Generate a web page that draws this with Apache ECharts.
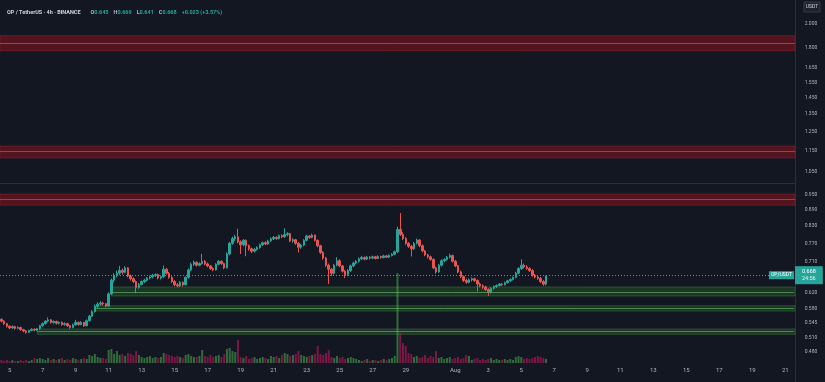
<!DOCTYPE html>
<html><head><meta charset="utf-8">
<script src="https://cdn.jsdelivr.net/npm/echarts@6/dist/echarts.min.js"></script>
<style>html,body{margin:0;padding:0;background:#131722;overflow:hidden}#c{width:825px;height:382px}</style>
</head><body><div id="c"></div>
<script>
// ---- data ----
const startTime = Date.UTC(2025, 6, 4, 12); // first 4h candle
const categoryCount = 289;
const firstOpen = 0.553;
const closes = [
0.549,0.543,0.537,0.533,0.536,0.532,0.534,0.529,0.526,0.523,
0.527,0.530,0.528,0.531,0.538,0.543,0.549,0.552,0.546,0.548,
0.544,0.546,0.541,0.543,0.538,0.534,0.540,0.546,0.541,0.546,
0.538,0.550,0.561,0.572,0.585,0.591,0.594,0.592,0.586,0.618,
0.656,0.670,0.676,0.684,0.679,0.692,0.668,0.660,0.652,0.636,
0.644,0.652,0.656,0.662,0.665,0.670,0.672,0.662,0.666,0.688,
0.676,0.664,0.652,0.643,0.640,0.650,0.643,0.664,0.686,0.703,
0.709,0.700,0.705,0.712,0.704,0.698,0.690,0.686,0.703,0.712,
0.705,0.692,0.735,0.770,0.786,0.792,0.775,0.765,0.780,0.762,
0.752,0.744,0.750,0.756,0.765,0.772,0.768,0.778,0.785,0.790,
0.786,0.796,0.792,0.800,0.803,0.778,0.782,0.770,0.757,0.764,
0.780,0.795,0.790,0.798,0.780,0.762,0.740,0.722,0.700,0.688,
0.676,0.700,0.714,0.698,0.682,0.672,0.684,0.698,0.707,0.712,
0.720,0.724,0.719,0.725,0.722,0.726,0.721,0.727,0.724,0.729,
0.725,0.730,0.734,0.742,0.818,0.800,0.786,0.770,0.760,0.752,
0.770,0.781,0.762,0.745,0.732,0.726,0.718,0.692,0.680,0.700,
0.714,0.718,0.725,0.730,0.712,0.698,0.680,0.666,0.655,0.650,
0.657,0.660,0.655,0.645,0.640,0.637,0.630,0.622,0.633,0.638,
0.641,0.645,0.643,0.649,0.654,0.658,0.664,0.676,0.690,0.700,
0.695,0.690,0.684,0.670,0.665,0.661,0.652,0.645,0.668];
const highs = [
0.556,0.551,0.545,0.539,0.539,0.538,0.537,0.536,0.531,0.528,
0.529,0.532,0.532,0.533,0.540,0.546,0.551,0.558,0.554,0.551,
0.550,0.548,0.548,0.546,0.545,0.540,0.543,0.552,0.548,0.549,
0.547,0.553,0.564,0.576,0.590,0.596,0.599,0.597,0.594,0.622,
0.661,0.676,0.684,0.698,0.690,0.697,0.694,0.672,0.664,0.655,
0.648,0.655,0.660,0.665,0.669,0.674,0.676,0.675,0.670,0.699,
0.692,0.680,0.667,0.656,0.648,0.653,0.652,0.667,0.690,0.708,
0.714,0.712,0.709,0.735,0.716,0.708,0.701,0.694,0.706,0.716,
0.715,0.708,0.740,0.775,0.792,0.799,0.820,0.780,0.784,0.783,
0.766,0.756,0.754,0.760,0.769,0.776,0.777,0.782,0.790,0.795,
0.794,0.800,0.800,0.822,0.808,0.806,0.787,0.785,0.774,0.768,
0.784,0.799,0.798,0.803,0.800,0.783,0.765,0.744,0.726,0.705,
0.692,0.704,0.725,0.718,0.701,0.686,0.688,0.702,0.711,0.716,
0.724,0.729,0.727,0.729,0.728,0.730,0.729,0.731,0.730,0.733,
0.732,0.734,0.738,0.746,0.828,0.878,0.808,0.791,0.774,0.764,
0.774,0.786,0.784,0.766,0.748,0.736,0.730,0.721,0.696,0.704,
0.718,0.722,0.729,0.736,0.733,0.716,0.701,0.684,0.669,0.660,
0.661,0.664,0.663,0.658,0.649,0.644,0.640,0.633,0.636,0.641,
0.644,0.648,0.648,0.652,0.657,0.661,0.667,0.680,0.694,0.718,
0.705,0.700,0.694,0.688,0.674,0.670,0.665,0.656,0.669];
const lows = [
0.546,0.540,0.534,0.530,0.531,0.529,0.530,0.527,0.523,0.520,
0.521,0.525,0.525,0.526,0.529,0.536,0.541,0.546,0.543,0.543,
0.541,0.541,0.538,0.538,0.535,0.531,0.532,0.538,0.538,0.539,
0.535,0.537,0.548,0.559,0.570,0.582,0.587,0.588,0.583,0.584,
0.615,0.650,0.664,0.670,0.672,0.676,0.664,0.655,0.648,0.620,
0.632,0.641,0.648,0.652,0.658,0.661,0.665,0.658,0.658,0.663,
0.672,0.660,0.648,0.639,0.636,0.637,0.638,0.641,0.660,0.682,
0.698,0.696,0.697,0.702,0.700,0.694,0.686,0.682,0.684,0.700,
0.701,0.688,0.690,0.731,0.765,0.778,0.770,0.735,0.760,0.728,
0.746,0.738,0.740,0.746,0.752,0.761,0.764,0.765,0.775,0.781,
0.782,0.783,0.788,0.789,0.794,0.774,0.772,0.765,0.740,0.752,
0.760,0.776,0.785,0.787,0.776,0.757,0.735,0.717,0.695,0.645,
0.668,0.672,0.697,0.694,0.678,0.662,0.668,0.680,0.694,0.703,
0.708,0.716,0.715,0.716,0.718,0.719,0.718,0.719,0.720,0.721,
0.722,0.723,0.727,0.731,0.738,0.795,0.781,0.765,0.755,0.727,
0.748,0.766,0.757,0.740,0.728,0.721,0.714,0.688,0.675,0.677,
0.696,0.709,0.714,0.721,0.708,0.694,0.676,0.662,0.651,0.646,
0.647,0.652,0.651,0.625,0.636,0.632,0.626,0.613,0.619,0.629,
0.634,0.638,0.640,0.641,0.646,0.651,0.655,0.661,0.673,0.686,
0.690,0.686,0.680,0.666,0.661,0.657,0.648,0.640,0.641];
const volumes = [
3,2,3,2,3,2,2,3,2,3,2,3,
5,4,5,4,3,5,
3,4,3,4,5,3,4,3,5,4,3,4,5,4,
8,7,9,6,5,5,4,
13,14,9,12,
8,9,7,10,9,8,12,8,
6,5,6,7,5,6,5,6,
10,9,8,7,6,7,6,5,
8,9,7,6,6,7,
13,
7,6,8,6,7,8,6,9,
14,15,12,11,23,
6,5,7,4,5,6,4,5,6,5,4,
7,6,7,5,
8,10,9,7,8,9,12,8,7,
6,7,8,9,
17,9,8,10,13,
6,5,7,5,6,4,5,6,5,4,
3,2,3,4,2,3,3,2,3,4,3,4,5,
7,90,30,20,17,10,9,
6,7,5,6,8,5,7,6,12,
5,6,4,5,6,4,5,6,4,5,8,7,
3,4,5,3,4,3,4,5,3,4,3,3,4,3,4,3,
6,7,6,4,5,4,5,
6,7,6,5,4];
const yTickValues = [0.480,0.510,0.545,0.580,0.620,0.710,0.770,0.830,0.890,0.950,1.050,1.150,1.250,1.350,1.450,1.550,1.650,1.800,2.000];
const xTickDates  = ['07-05','07-07','07-09','07-11','07-13','07-15','07-17','07-19','07-21','07-23','07-25','07-27','07-29','08-01','08-03','08-05','08-07','08-09','08-11','08-13','08-15','08-17','08-19','08-21'];
const xTickLabels = ['5','7','9','11','13','15','17','19','21','23','25','27','29','Aug','3','5','7','9','11','13','15','17','19','21'];
// resistance zones: [low, high, mid]
const resistanceZones = [[1.779,1.899,1.840],[1.116,1.1755,1.145],[0.909,0.954,0.9336]];
// support zones: [start candle index, low, high, mid]
const supportZones = [[40,0.6124,0.6368,0.6231],[34,0.5737,0.5870,0.5807],[13,0.5184,0.5305,0.5245]];
const lastPrice = 0.668;
const countdown = '24:56';
const priceMin = 0.4576, priceMax = 2.2178;

// ---- build ----
const L = Math.log;
const pad = n => String(n).padStart(2,'0');
const categories = [];
for (let k = 0; k < categoryCount; k++) {
  const d = new Date(startTime + k * 4 * 3600e3);
  categories.push(pad(d.getUTCMonth()+1) + '-' + pad(d.getUTCDate()) + ' ' + pad(d.getUTCHours()) + ':00');
}
const labelMap = {};
xTickDates.forEach((d, j) => { labelMap[d + ' 00:00'] = xTickLabels[j]; });
const opens = closes.map((c, i) => i === 0 ? firstOpen : closes[i-1]);
const UP = '#26a69a', DOWN = '#ef5350';
const candleData = closes.map((c, i) => [L(opens[i]), L(c), L(lows[i]), L(highs[i])]);
const volData = volumes.map((v, i) => ({value: v, itemStyle: {color: closes[i] >= opens[i] ? 'rgba(76,175,80,0.55)' : 'rgba(194,24,91,0.6)'}}));

const areaData = [];
resistanceZones.forEach(z => areaData.push([
  {yAxis: L(z[0]), itemStyle: {color: 'rgba(95,20,30,0.85)', borderColor: 'rgba(130,35,45,0.6)', borderWidth: 1}},
  {yAxis: L(z[1])}]));
supportZones.forEach(z => areaData.push([
  {xAxis: z[0], yAxis: L(z[1]), itemStyle: {color: 'rgba(35,85,38,0.5)', borderColor: 'rgba(55,115,58,0.55)', borderWidth: 1}},
  {yAxis: L(z[2])}]));
const lineData = [];
resistanceZones.forEach(z => lineData.push({yAxis: L(z[2]), lineStyle: {color: 'rgba(170,80,88,0.8)', type: 'solid', width: 1}, label: {show: false}}));
supportZones.forEach(z => lineData.push([
  {xAxis: z[0], yAxis: L(z[3]), lineStyle: {color: 'rgba(90,160,92,0.8)', type: 'solid', width: 1}, label: {show: false}},
  {xAxis: categoryCount - 1, yAxis: L(z[3])}]));
lineData.push({yAxis: L(lastPrice), lineStyle: {color: '#4f9a95', type: [1, 2], width: 1},
  label: {show: true, position: 'end', distance: 0, formatter: '{p|' + lastPrice.toFixed(3) + '}\n{t|' + countdown + '}',
    backgroundColor: UP, padding: [2, 7, 2, 7],
    rich: {p: {color: '#fff', fontSize: 5.5, lineHeight: 7, fontFamily: 'Roboto'}, t: {color: '#e0f2f1', fontSize: 5.5, lineHeight: 7, fontFamily: 'Roboto'}}}});
lineData.push({yAxis: L(lastPrice), lineStyle: {color: 'rgba(0,0,0,0)', width: 0.1},
  label: {show: true, position: 'insideEnd', distance: 1, formatter: 'OP/USDT', color: '#fff', fontSize: 5, fontFamily: 'Roboto',
    backgroundColor: UP, padding: [2, 2, 1, 2]}});

const chart = echarts.init(document.getElementById('c'), null, {renderer: 'canvas'});
chart.setOption({
  backgroundColor: '#131722',
  animation: false,
  title: {
    left: 7, top: 4, padding: 0,
    text: '{n|OP / TetherUS · 4h · BINANCE}  {k|O}{v|0.645} {k|H}{v|0.669} {k|L}{v|0.641} {k|C}{v|0.668} {v|+0.023 (+3.57%)}',
    textStyle: {rich: {
      n: {color: '#d1d4dc', fontSize: 5.5, fontFamily: 'Roboto'},
      k: {color: '#b2b5be', fontSize: 5.5, fontFamily: 'Roboto'},
      v: {color: UP, fontSize: 5.5, fontFamily: 'Roboto'}}}
  },
  grid: [
    {left: 0, right: 30, top: 0, bottom: 19},
    {left: 0, right: 30, top: 263, bottom: 19}
  ],
  xAxis: [
    {type: 'category', data: categories, gridIndex: 0, boundaryGap: true,
      axisLine: {show: true, lineStyle: {color: '#2a2e39'}}, axisTick: {show: false}, splitLine: {show: false},
      axisLabel: {interval: (i, v) => labelMap[v] !== undefined, formatter: v => labelMap[v] || '',
        color: '#b2b5be', fontSize: 6, margin: 4, fontFamily: 'Roboto', hideOverlap: false}},
    {type: 'category', data: categories, gridIndex: 1, boundaryGap: true, show: false}
  ],
  yAxis: [
    {type: 'value', gridIndex: 0, position: 'right', min: L(priceMin), max: L(priceMax), scale: true,
      splitLine: {show: false}, axisTick: {show: false},
      axisLine: {show: true, lineStyle: {color: '#2a2e39'}},
      axisLabel: {customValues: yTickValues.map(v => L(v)), formatter: v => Math.exp(v).toFixed(3),
        color: '#b2b5be', fontSize: 5, margin: 16, align: 'center', fontFamily: 'Roboto'}},
    {type: 'value', gridIndex: 1, min: 0, max: 100, show: false, splitLine: {show: false}}
  ],
  graphic: [
    {type: 'rect', shape: {x: 804, y: 2, width: 16, height: 10}, style: {fill: '#1e222d', stroke: '#363a45', lineWidth: 1}},
    {type: 'text', x: 812, y: 7, style: {text: 'USDT', fill: '#d1d4dc', fontSize: 5, fontFamily: 'Roboto', align: 'center', verticalAlign: 'middle'}},
    {type: 'line', shape: {x1: 795.5, y1: 363, x2: 795.5, y2: 382}, style: {stroke: '#2a2e39', lineWidth: 1}}
  ],
  series: [
    {type: 'bar', name: 'Volume', xAxisIndex: 1, yAxisIndex: 1, data: volData, barWidth: 2, z: 1, silent: true},
    {type: 'candlestick', name: 'OPUSDT', xAxisIndex: 0, yAxisIndex: 0, data: candleData, barWidth: 2, z: 3,
      itemStyle: {color: UP, color0: DOWN, borderColor: UP, borderColor0: DOWN, borderWidth: 1},
      markArea: {silent: true, data: areaData, z: 1},
      markLine: {silent: true, symbol: ['none', 'none'], data: lineData, animation: false}}
  ]
});
</script></body></html>
